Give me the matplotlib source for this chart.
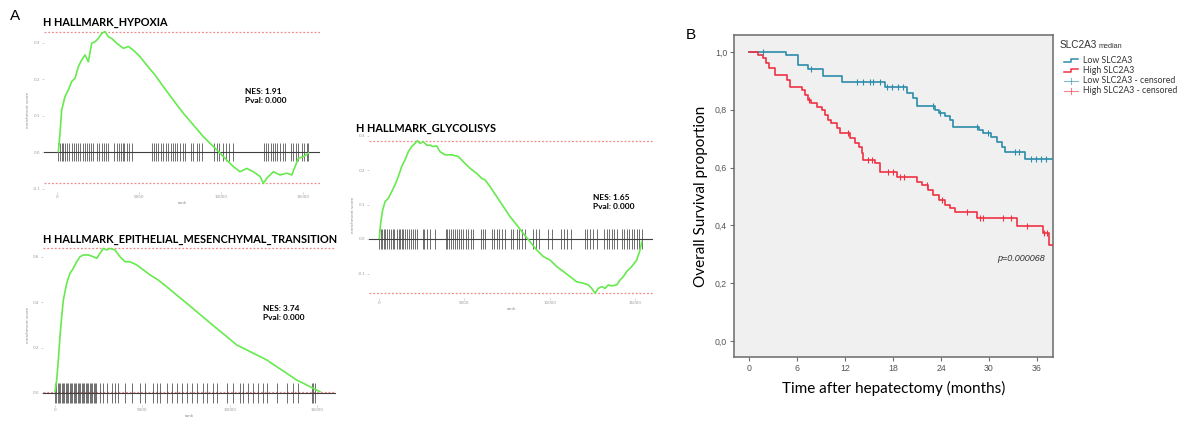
import numpy as np
import matplotlib
matplotlib.use("Agg")
import matplotlib.pyplot as plt

# ---------------- DATA ----------------
# GSEA running enrichment score curves (rank, ES)
hyp_rank = [82, 183, 285, 488, 692, 895, 1098, 1302, 1505, 1708, 1912, 2115, 2318, 2521, 2725,
            2928, 3131, 3335, 3640, 4047, 4352, 4656, 5063, 5469, 5977, 6486, 7096, 7706, 8315,
            8925, 9535, 9942, 10348, 10755, 11162, 11568, 11975, 12381, 12584, 12788, 13194,
            13601, 14008, 14313, 14516, 14719, 15024, 15329]
hyp_es = [0.001, 0.051, 0.115, 0.152, 0.170, 0.193, 0.202, 0.234, 0.252, 0.266, 0.247, 0.298,
          0.302, 0.311, 0.325, 0.330, 0.316, 0.311, 0.298, 0.284, 0.289, 0.279, 0.261, 0.238,
          0.211, 0.179, 0.142, 0.106, 0.074, 0.042, 0.015, -0.003, -0.022, -0.040, -0.054,
          -0.045, -0.054, -0.067, -0.086, -0.072, -0.054, -0.063, -0.058, -0.063, -0.040,
          -0.017, -0.013, -0.003]
hyp_hits = [82, 183, 285, 387, 509, 631, 753, 895, 1037, 1159, 1302, 1403, 1566, 1708, 1850,
            1972, 2054, 2176, 2460, 2582, 2725, 2867, 2989, 3131, 3477, 3640, 3761, 3883, 4005,
            4087, 4249, 4412, 4554, 5774, 5916, 6038, 6181, 6323, 6486, 6648, 6791, 6933, 7055,
            7197, 7340, 7502, 7665, 7807, 8153, 8315, 8519, 8681, 8823, 9576, 9738, 9901, 10104,
            10307, 10511, 10714, 12625, 12747, 12889, 13032, 13154, 13296, 13439, 13601, 13764,
            13926, 14252, 14414, 14577, 14719, 14922, 15065, 15227, 15329]

emt_rank = [0, 96, 191, 286, 382, 477, 668, 859, 1050, 1240, 1431, 1622, 1908, 2194, 2385, 2576,
            2767, 2958, 3148, 3435, 3721, 4007, 4293, 4675, 5056, 5438, 5915, 6392, 6964, 7537,
            8109, 8682, 9254, 9826, 10399, 10971, 11544, 12116, 12688, 13261, 13833, 14215,
            14596, 14978, 15168]
emt_es = [0.006, 0.057, 0.146, 0.249, 0.337, 0.410, 0.484, 0.528, 0.550, 0.579, 0.601, 0.609,
          0.609, 0.601, 0.594, 0.616, 0.638, 0.631, 0.638, 0.631, 0.601, 0.579, 0.579, 0.565,
          0.543, 0.521, 0.498, 0.469, 0.432, 0.396, 0.359, 0.322, 0.285, 0.249, 0.212, 0.190,
          0.168, 0.146, 0.116, 0.087, 0.057, 0.043, 0.028, 0.013, 0.006]
emt_hits = [0, 76, 153, 229, 305, 382, 458, 534, 611, 687, 763, 840, 916, 992, 1069, 1145, 1221,
            1298, 1374, 1450, 1527, 1603, 1679, 1756, 1832, 1908, 1985, 2061, 2137, 2214, 2290,
            2366, 2576, 2767, 2958, 3244, 3435, 3625, 4007, 4389, 4866, 5152, 5629, 5820, 6010,
            6392, 6678, 6964, 7251, 7537, 7823, 8109, 8491, 8682, 9063, 9254, 9826, 10208,
            10590, 10780, 11066, 11353, 11639, 11925, 12116, 12688, 13261, 13642, 13929, 14692,
            14787, 14883]

gly_rank = [20, 98, 215, 352, 547, 742, 937, 1133, 1328, 1523, 1719, 1914, 2109, 2246, 2402,
            2598, 2793, 2988, 3183, 3379, 3574, 3867, 4258, 4648, 4941, 5332, 5722, 6015, 6211,
            6504, 6894, 7285, 7675, 8066, 8457, 8847, 9238, 9628, 10019, 10410, 10800, 11191,
            11581, 11972, 12265, 12460, 12655, 12851, 13046, 13241, 13437, 13632, 13925, 14120,
            14316, 14511, 14804, 15097, 15292, 15390]
gly_es = [0.002, 0.046, 0.084, 0.108, 0.118, 0.137, 0.157, 0.181, 0.210, 0.229, 0.253, 0.268,
          0.277, 0.285, 0.277, 0.282, 0.272, 0.272, 0.268, 0.270, 0.253, 0.244, 0.244, 0.239,
          0.224, 0.205, 0.190, 0.176, 0.171, 0.152, 0.123, 0.094, 0.065, 0.041, 0.016, -0.008,
          -0.032, -0.051, -0.061, -0.080, -0.094, -0.109, -0.124, -0.128, -0.133, -0.143,
          -0.157, -0.143, -0.138, -0.143, -0.133, -0.136, -0.133, -0.119, -0.109, -0.094,
          -0.080, -0.061, -0.032, -0.008]
gly_hits = [20, 98, 176, 273, 371, 488, 605, 703, 801, 898, 1035, 1152, 1230, 1328, 1426, 1543,
            1660, 1777, 1894, 2012, 2129, 2246, 2558, 2637, 2832, 2988, 3281, 3926, 4004, 4121,
            4238, 4355, 4472, 4590, 4707, 4824, 4941, 5097, 5234, 5371, 5527, 5957, 6074, 6230,
            6601, 6738, 6894, 7050, 7207, 7382, 7714, 7871, 8066, 8222, 8379, 8555, 9003, 9199,
            9394, 9921, 10117, 10644, 10839, 11034, 11230, 12070, 12206, 12362, 12519, 12792,
            13183, 13339, 13495, 13632, 13769, 13925, 14218, 14355, 14511, 14667, 14804, 14941,
            15097, 15234, 15390]

gsea_titles = ["H HALLMARK_HYPOXIA", "H HALLMARK_EPITHELIAL_MESENCHYMAL_TRANSITION",
               "H HALLMARK_GLYCOLISYS"]
gsea_nes = ["1.91", "3.74", "1.65"]
gsea_pval = ["0.000", "0.000", "0.000"]
rank_ticks = [0, 5000, 10000, 15000]
hyp_yticks = [-0.1, 0.0, 0.1, 0.2, 0.3]
emt_yticks = [0.0, 0.2, 0.4, 0.6]
gly_yticks = [-0.1, 0.0, 0.1, 0.2, 0.3]

# Kaplan-Meier (months, survival proportion)
low_times = [0, 4.6, 6.1, 7.4, 9.3, 11.6, 17.0, 19.7, 20.5, 21.0, 23.25, 23.8, 24.5, 25.1, 25.5,
             28.7, 29.3, 30.3, 31.0, 31.6, 32.0, 34.5]
low_surv = [1.0, 0.99, 0.955, 0.942, 0.918, 0.895, 0.88, 0.857, 0.84, 0.813, 0.80, 0.79, 0.778,
            0.765, 0.739, 0.73, 0.72, 0.707, 0.69, 0.672, 0.655, 0.630]
low_cens = [1.7, 7.8, 13.5, 14.3, 15.1, 15.5, 16.4, 17.2, 17.9, 18.6, 19.3, 23.0, 23.9, 28.5,
            29.9, 33.3, 33.8, 35.3, 35.9, 36.5, 37.1]
high_times = [0, 1.17, 1.7, 2.1, 2.5, 3.25, 4.7, 5.1, 6.6, 7.0, 7.4, 7.8, 8.5, 9.1, 9.5, 9.9,
              10.3, 10.96, 11.4, 12.6, 13.25, 13.7, 14.1, 14.3, 15.75, 16.4, 18.5, 21.0, 21.6,
              22.4, 23.0, 23.7, 24.5, 25.1, 25.75, 28.5, 33.5, 36.7, 37.5]
high_surv = [1.0, 0.99, 0.978, 0.961, 0.944, 0.92, 0.903, 0.88, 0.869, 0.852, 0.834, 0.823,
             0.811, 0.8, 0.782, 0.765, 0.753, 0.736, 0.719, 0.702, 0.684, 0.673, 0.65, 0.627,
             0.615, 0.586, 0.569, 0.551, 0.54, 0.523, 0.505, 0.488, 0.471, 0.459, 0.447, 0.424,
             0.398, 0.373, 0.332]
high_cens = [7.5, 12.4, 14.9, 15.4, 17.4, 18.0, 18.9, 19.4, 22.2, 24.1, 27.3, 28.9, 29.2, 31.8,
             32.7, 34.7, 36.9, 37.2]
followup_end = 38.0
km_xticks = [0, 6, 12, 18, 24, 30, 36]
km_yticks = [0.0, 0.2, 0.4, 0.6, 0.8, 1.0]
km_ylabels = ["0,0", "0,2", "0,4", "0,6", "0,8", "1,0"]
legend_labels = ["Low SLC2A3", "High SLC2A3", "Low SLC2A3 - censored", "High SLC2A3 - censored"]
p_text = "p=0.000068"

# ---------------- LAYOUT ----------------
W, H = 1189, 428
fig = plt.figure(figsize=(W / 100, H / 100), dpi=100)
fig.patch.set_facecolor("white")

def box(l, t, r, b):
    return [l / W, 1 - b / H, (r - l) / W, (b - t) / H]

def ftext(x, y, s, **kw):
    fig.text(x / W, 1 - y / H, s, **kw)

GREEN = "#66ea4e"
RED_DASH = "#f08a8a"
BOLDF = ["Lato", "DejaVu Sans"]

def gsea(ax, ranks, es, hits, hit_half, yticks, xlim, ylim):
    ax.axhline(max(es), color=RED_DASH, lw=0.9, ls=(0, (1.5, 1.5)), zorder=1)
    ax.axhline(min(es), color=RED_DASH, lw=0.9, ls=(0, (1.5, 1.5)), zorder=1)
    ax.vlines(hits, -hit_half, hit_half, color="#303030", lw=0.65, alpha=0.75, zorder=2)
    ax.axhline(0, color="#404040", lw=0.8, zorder=3)
    ax.plot(ranks, es, color=GREEN, lw=1.2, zorder=4)
    ax.set_xlim(*xlim)
    ax.set_ylim(*ylim)
    for s in ax.spines.values():
        s.set_visible(False)
    ax.set_xticks(rank_ticks)
    ax.set_xticklabels([str(v) for v in rank_ticks])
    ax.set_yticks(yticks)
    ax.set_yticklabels([f"{v:.1f}" for v in yticks])
    ax.tick_params(length=1.5, width=0.5, color="#c0c0c0", labelsize=3, labelcolor="#9a9a9a", pad=1)
    ax.set_xlabel("rank", fontsize=3, color="#8a8a8a", labelpad=1)
    ax.set_ylabel("enrichment score", fontsize=3, color="#8a8a8a", labelpad=2)
    ax.patch.set_alpha(0)

# Hypoxia: rank->x = 57 + 0.0164 r ; ES->y = 152 - 365 es
ax1 = fig.add_axes(box(44, 28, 320, 192))
gsea(ax1, hyp_rank, hyp_es, hyp_hits, 0.026, hyp_yticks,
     ((44 - 57) / 0.0164, (320 - 57) / 0.0164), ((152 - 192) / 365, (152 - 28) / 365))

# EMT: rank->x = 55 + 0.01747 r ; ES->y = 393 - 226.7 es
ax2 = fig.add_axes(box(43, 245, 336, 405))
gsea(ax2, emt_rank, emt_es, emt_hits, 0.042, emt_yticks,
     ((43 - 55) / 0.01747, (336 - 55) / 0.01747), ((393 - 405) / 226.7, (393 - 245) / 226.7))

# Glycolysis: rank->x = 379 + 0.01707 r ; ES->y = 239 - 345 es
ax3 = fig.add_axes(box(369, 132, 653, 298))
gsea(ax3, gly_rank, gly_es, gly_hits, 0.029, gly_yticks,
     ((369 - 379) / 0.01707, (653 - 379) / 0.01707), ((239 - 298) / 345, (239 - 132) / 345))

# titles and NES
ftext(43, 22, gsea_titles[0], fontsize=7.8, fontweight="bold", family=BOLDF, va="center")
ftext(43, 240, gsea_titles[1], fontsize=7.8, fontweight="bold", family=BOLDF, va="center")
ftext(356, 128, gsea_titles[2], fontsize=7.8, fontweight="bold", family=BOLDF, va="center")
for (x, y), n, p in zip([(245, 96), (263, 313), (593, 202)], gsea_nes, gsea_pval):
    ftext(x, y, f"NES: {n}\nPval: {p}", fontsize=6, fontweight="bold", family=BOLDF,
          va="center", linespacing=1.25)

ftext(10, 16, "A", fontsize=11, family=["Liberation Sans"], va="center")
ftext(686, 35, "B", fontsize=11, family=["Liberation Sans"], va="center")

# ---------------- Kaplan-Meier ----------------
BLUE = "#2d8caa"
RED = "#ee3242"
axk = fig.add_axes(box(734, 35, 1053, 357))
axk.set_facecolor("#f0f0f0")

def km(ax, times, surv, cens, color):
    t = list(times) + [followup_end]
    s = list(surv) + [surv[-1]]
    ax.step(t, s, where="post", color=color, lw=1.2, zorder=3)
    idx = np.searchsorted(np.array(times), np.array(cens), side="right") - 1
    cy = np.array(surv)[idx]
    ax.plot(cens, cy, ls="none", marker="|", ms=5, mew=0.8, color=color, zorder=4)

km(axk, low_times, low_surv, low_cens, BLUE)
km(axk, high_times, high_surv, high_cens, RED)
axk.set_xlim((734 - 749) / 8, (1053 - 749) / 8)
axk.set_ylim((341 - 357) / 289, (341 - 35) / 289)
axk.set_xticks(km_xticks)
axk.set_yticks(km_yticks)
axk.set_yticklabels(km_ylabels)
axk.tick_params(length=3, width=0.8, color="#707070", labelsize=6.3, labelcolor="#555555", pad=2)
for lab in axk.get_xticklabels() + axk.get_yticklabels():
    lab.set_family("Liberation Sans")
for s in axk.spines.values():
    s.set_color("#6a6a6a")
    s.set_linewidth(1.1)
axk.set_xlabel("Time after hepatectomy (months)", fontsize=11, family=["Lato"], labelpad=6)
axk.set_ylabel("Overall Survival proportion", fontsize=11, family=["Lato"], labelpad=5)
axk.text(34.0, 0.284, p_text, fontsize=6.5, style="italic", color="#333333",
         family=["Liberation Sans"], ha="center", va="center")

# legend (manual, in pixel overlay)
ov = fig.add_axes([0, 0, 1, 1])
ov.set_xlim(0, W)
ov.set_ylim(H, 0)
ov.axis("off")
ftext(1060, 45, "SLC2A3", fontsize=7.2, family=["Liberation Sans"], va="center", color="#333")
ftext(1099, 46, "median", fontsize=5.2, family=["Liberation Sans"], va="center", color="#333")
rows = [60.5, 70.5, 80.5, 90.5]
for i, (y, lab) in enumerate(zip(rows, legend_labels)):
    col = BLUE if i % 2 == 0 else RED
    if i < 2:
        ov.plot([1064, 1071, 1071, 1078], [y + 1.8, y + 1.8, y - 1.8, y - 1.8], color=col, lw=1.1)
    else:
        ov.plot([1064, 1078], [y, y], color=col, lw=0.8, alpha=0.6)
        ov.plot([1071, 1071], [y - 3, y + 3], color=col, lw=0.8, alpha=0.6)
    ftext(1083, y, lab, fontsize=6.3, family=["Lato"], va="center", color="#333")

fig.savefig("out.png", dpi=100)
